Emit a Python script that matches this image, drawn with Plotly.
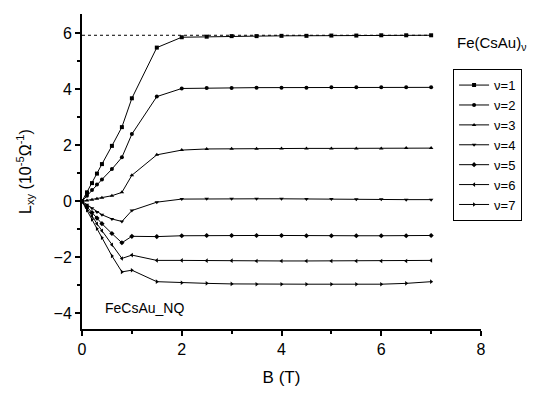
import plotly.graph_objects as go

B = [0, 0.1, 0.2, 0.3, 0.4, 0.6, 0.8, 1.0, 1.5, 2.0, 2.5, 3.0, 3.5, 4.0, 4.5, 5.0, 5.5, 6.0, 6.5, 7.0]

nu1 = [0, 0.32, 0.65, 0.99, 1.33, 1.98, 2.65, 3.68, 5.49, 5.86, 5.88, 5.90, 5.90, 5.91, 5.91, 5.92, 5.92, 5.93, 5.93, 5.93]
nu2 = [0, 0.20, 0.40, 0.60, 0.78, 1.15, 1.57, 2.40, 3.74, 4.03, 4.05, 4.05, 4.06, 4.06, 4.06, 4.07, 4.07, 4.07, 4.07, 4.07]
nu3 = [0, 0.03, 0.06, 0.09, 0.13, 0.20, 0.32, 0.93, 1.66, 1.83, 1.87, 1.88, 1.88, 1.89, 1.89, 1.89, 1.89, 1.89, 1.90, 1.90]
nu4 = [0, -0.12, -0.25, -0.38, -0.48, -0.63, -0.72, -0.33, -0.03, 0.08, 0.09, 0.09, 0.09, 0.09, 0.08, 0.08, 0.07, 0.07, 0.06, 0.06]
nu5 = [0, -0.20, -0.40, -0.60, -0.80, -1.15, -1.48, -1.25, -1.26, -1.23, -1.22, -1.22, -1.22, -1.22, -1.23, -1.23, -1.23, -1.23, -1.23, -1.22]
nu6 = [0, -0.25, -0.52, -0.80, -1.05, -1.55, -2.04, -1.92, -2.11, -2.11, -2.12, -2.12, -2.13, -2.13, -2.13, -2.13, -2.13, -2.13, -2.13, -2.11]
nu7 = [0, -0.32, -0.65, -0.98, -1.30, -1.95, -2.52, -2.46, -2.87, -2.91, -2.93, -2.95, -2.96, -2.96, -2.96, -2.96, -2.96, -2.96, -2.93, -2.87]

series = [nu1, nu2, nu3, nu4, nu5, nu6, nu7]
names = ["ν=1", "ν=2", "ν=3", "ν=4", "ν=5", "ν=6", "ν=7"]
symbols = ["square", "circle", "triangle-up", "triangle-down", "diamond", "triangle-left", "triangle-right"]

ref_level = 5.93
ref_x = [0, 7]

FONT = "Liberation Sans, Arial, sans-serif"

fig = go.Figure()
fig.add_trace(go.Scatter(x=ref_x, y=[ref_level, ref_level], mode="lines",
                         line=dict(color="black", width=1, dash="dot"), showlegend=False,
                         hoverinfo="skip"))
for name, ys, sym in zip(names, series, symbols):
    fig.add_trace(go.Scatter(x=B, y=ys, mode="lines+markers", name=name,
                             line=dict(color="black", width=1),
                             marker=dict(symbol=sym, size=4, color="black")))

axis_common = dict(showline=True, linecolor="black", linewidth=2, ticks="outside",
                   ticklen=5, tickwidth=1.5, tickcolor="black", showgrid=False, zeroline=False,
                   tickfont=dict(family=FONT, size=16, color="black"), mirror=False, automargin=False)

fig.update_xaxes(range=[0, 8], dtick=2, title=dict(text="B (T)", font=dict(family=FONT, size=17, color="black"), standoff=14),
                 minor=dict(ticks="outside", dtick=1, ticklen=3, tickwidth=1.5, tickcolor="black"), **axis_common)
fig.update_yaxes(range=[-4.56, 6.69], dtick=2, tick0=0,
                 title=dict(text="L<sub>xy</sub> (10<sup>-5</sup>Ω<sup>-1</sup>)", font=dict(family=FONT, size=16, color="black"), standoff=18),
                 minor=dict(ticks="outside", dtick=1, tick0=1, ticklen=3, tickwidth=1.5, tickcolor="black"), **axis_common)

fig.add_annotation(text="FeCsAu_NQ", xref="x", yref="y", x=0.42, y=-3.8, xanchor="left", yanchor="middle",
                   showarrow=False, font=dict(family=FONT, size=14, color="black"))
fig.add_annotation(text="Fe(CsAu)<sub>ν</sub>", xref="paper", yref="paper", x=0.935, y=0.905,
                   xanchor="left", yanchor="middle", showarrow=False,
                   font=dict(family=FONT, size=15, color="black"))

fig.update_layout(width=540, height=394, margin=dict(l=74, r=67, t=6, b=73),
                  plot_bgcolor="white", paper_bgcolor="white",
                  legend=dict(x=0.93, y=0.825, xanchor="left", yanchor="top", bordercolor="black", borderwidth=1,
                              bgcolor="white", font=dict(family=FONT, size=13, color="black"),
                              itemwidth=30, tracegroupgap=0))

fig.write_html("out.html")
